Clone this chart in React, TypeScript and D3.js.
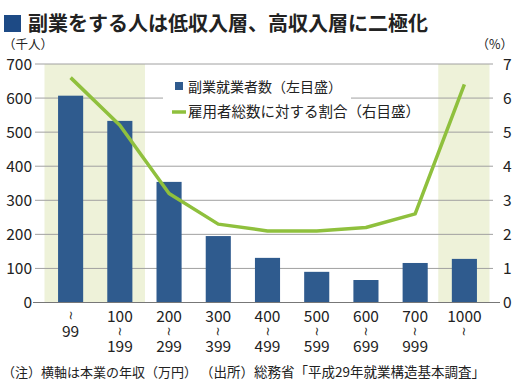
import { useEffect, useRef } from "react";
import * as d3 from "d3";

const incomeFrom = ["", "100", "200", "300", "400", "500", "600", "700", "1000"];
const incomeTo = ["99", "199", "299", "399", "499", "599", "699", "999", ""];
const sideJobWorkers = [607, 533, 354, 195, 131, 90, 66, 116, 128];
const shareOfEmployees = [6.6, 5.2, 3.2, 2.3, 2.1, 2.1, 2.2, 2.6, 6.4];
const leftTicks = [0, 100, 200, 300, 400, 500, 600, 700];
const rightTicks = [0, 1, 2, 3, 4, 5, 6, 7];
const shadedGroups = [["0", "1"], ["8"]];

const title = "副業をする人は低収入層、高収入層に二極化";
const legendBar = "副業就業者数（左目盛）";
const legendLine = "雇用者総数に対する割合（右目盛）";
const noteText = "（注）横軸は本業の年収（万円）";
const sourceText = "（出所）総務省「平成29年就業構造基本調査」";

const FONT = "'Noto Sans CJK JP', 'Noto Sans', sans-serif";

export default function App() {
  const ref = useRef<SVGSVGElement>(null);

  useEffect(() => {
    const svg = d3.select(ref.current!);
    svg.selectAll("*").remove();

    const width = 520;
    const height = 392;
    const plot = { left: 35, right: 493, top: 64, bottom: 302.5 };
    const cats = incomeFrom.map((d, i) => String(i));

    const x = d3
      .scaleBand()
      .domain(cats)
      .range([46, 489])
      .paddingInner(0.49)
      .paddingOuter(0.245);
    const xs = d3.scaleBand().domain(cats).range([46, 489]).padding(0);
    const yL = d3.scaleLinear().domain([0, 700]).range([plot.bottom, plot.top]);
    const yR = d3.scaleLinear().domain([0, 7]).range([plot.bottom, plot.top]);

    svg.attr("width", width).attr("height", height);
    svg.append("rect").attr("width", width).attr("height", height).attr("fill", "#fff");

    // shaded income groups
    svg
      .append("g")
      .selectAll("rect")
      .data(shadedGroups)
      .join("rect")
      .attr("x", (g) => xs(g[0])! - 1.5)
      .attr("width", (g) => xs(g[g.length - 1])! + xs.bandwidth() - xs(g[0])! + 2)
      .attr("y", plot.top)
      .attr("height", plot.bottom - plot.top)
      .attr("fill", "#eef2d9");

    // gridlines
    svg
      .append("g")
      .selectAll("line")
      .data(leftTicks.filter((t) => t > 0))
      .join("line")
      .attr("x1", plot.left)
      .attr("x2", plot.right)
      .attr("y1", (d) => yL(d))
      .attr("y2", (d) => yL(d))
      .attr("stroke", "#a0a0a0")
      .attr("stroke-width", 1);

    // legend backing
    const lg = svg.append("g");
    lg.append("rect").attr("x", 163).attr("y", 72).attr("width", 188).attr("height", 30).attr("fill", "#fff");
    lg.append("rect").attr("x", 163).attr("y", 100).attr("width", 275).attr("height", 24).attr("fill", "#fff");

    // bars
    svg
      .append("g")
      .selectAll("rect")
      .data(sideJobWorkers)
      .join("rect")
      .attr("x", (_, i) => x(cats[i])!)
      .attr("width", x.bandwidth())
      .attr("y", (d) => yL(d))
      .attr("height", (d) => yL(0) - yL(d))
      .attr("fill", "#2f5b8e");

    // zero axis
    svg
      .append("line")
      .attr("x1", plot.left - 2)
      .attr("x2", plot.right + 7)
      .attr("y1", yL(0))
      .attr("y2", yL(0))
      .attr("stroke", "#777")
      .attr("stroke-width", 1.2);

    // ratio line
    const line = d3
      .line<number>()
      .x((_, i) => x(cats[i])! + x.bandwidth() / 2)
      .y((d) => yR(d));
    svg
      .append("path")
      .datum(shareOfEmployees)
      .attr("d", line)
      .attr("fill", "none")
      .attr("stroke", "#8fc03d")
      .attr("stroke-width", 3.5)
      .attr("stroke-linejoin", "round");

    // left axis labels
    svg
      .append("g")
      .selectAll("text")
      .data(leftTicks)
      .join("text")
      .attr("x", 32)
      .attr("y", (d) => yL(d) + 5.5)
      .attr("text-anchor", "end")
      .attr("font-family", FONT)
      .attr("font-size", 15.5)
      .attr("fill", "#222")
      .text((d) => d);

    // right axis labels
    svg
      .append("g")
      .selectAll("text")
      .data(rightTicks)
      .join("text")
      .attr("x", 503)
      .attr("y", (d) => yR(d) + 5.5)
      .attr("text-anchor", "start")
      .attr("font-family", FONT)
      .attr("font-size", 15.5)
      .attr("fill", "#222")
      .text((d) => d);

    // x labels: from / wave / to, wave drawn as a rotated tilde
    const xl = svg
      .append("g")
      .attr("font-family", FONT)
      .attr("font-size", 15.5)
      .attr("fill", "#222")
      .attr("text-anchor", "middle");
    const tilde = (cx: number, cy: number) =>
      xl
        .append("text")
        .attr("transform", `translate(${cx},${cy}) rotate(90)`)
        .attr("dominant-baseline", "central")
        .attr("font-family", "'DejaVu Sans', sans-serif")
        .attr("font-size", 12)
        .text("~");
    cats.forEach((c, i) => {
      const cx = x(c)! + x.bandwidth() / 2;
      if (!incomeFrom[i]) {
        tilde(cx, 315.5);
        xl.append("text").attr("x", cx).attr("y", 337).text(incomeTo[i]);
      } else if (!incomeTo[i]) {
        xl.append("text").attr("x", cx).attr("y", 322).text(incomeFrom[i]);
        tilde(cx, 331.5);
      } else {
        xl.append("text").attr("x", cx).attr("y", 322).text(incomeFrom[i]);
        tilde(cx, 331.5);
        xl.append("text").attr("x", cx).attr("y", 352).text(incomeTo[i]);
      }
    });

    // legend
    lg.append("rect").attr("x", 175).attr("y", 82).attr("width", 8).attr("height", 8).attr("fill", "#2f5b8e");
    lg.append("text")
      .attr("x", 188)
      .attr("y", 92)
      .attr("font-family", FONT)
      .attr("font-size", 14)
      .attr("fill", "#222")
      .text(legendBar);
    lg.append("line")
      .attr("x1", 172)
      .attr("x2", 186)
      .attr("y1", 112)
      .attr("y2", 112)
      .attr("stroke", "#8fc03d")
      .attr("stroke-width", 3.5);
    lg.append("text")
      .attr("x", 188)
      .attr("y", 117)
      .attr("font-family", FONT)
      .attr("font-size", 14.5)
      .attr("fill", "#222")
      .text(legendLine);

    // title
    svg.append("rect").attr("x", 4).attr("y", 15).attr("width", 17).attr("height", 17).attr("fill", "#1d4a85");
    svg
      .append("text")
      .attr("x", 28)
      .attr("y", 31)
      .attr("font-family", FONT)
      .attr("font-weight", "bold")
      .attr("font-size", 20)
      .attr("fill", "#222")
      .text(title);

    // units
    svg
      .append("text")
      .attr("x", 3)
      .attr("y", 48.5)
      .attr("font-family", FONT)
      .attr("font-size", 12.5)
      .attr("fill", "#222")
      .text("（千人）");
    svg
      .append("text")
      .attr("x", 513)
      .attr("y", 48.5)
      .attr("text-anchor", "end")
      .attr("font-family", FONT)
      .attr("font-size", 12.5)
      .attr("fill", "#222")
      .text("（%）");

    // notes
    svg
      .append("text")
      .attr("x", 2)
      .attr("y", 377)
      .attr("font-family", FONT)
      .attr("font-size", 13)
      .attr("fill", "#222")
      .text(noteText);
    svg
      .append("text")
      .attr("x", 200)
      .attr("y", 377)
      .attr("font-family", FONT)
      .attr("font-size", 13.5)
      .attr("fill", "#222")
      .text(sourceText);
  }, []);

  return <svg ref={ref} style={{ position: "absolute", left: 0, top: 0 }} />;
}
